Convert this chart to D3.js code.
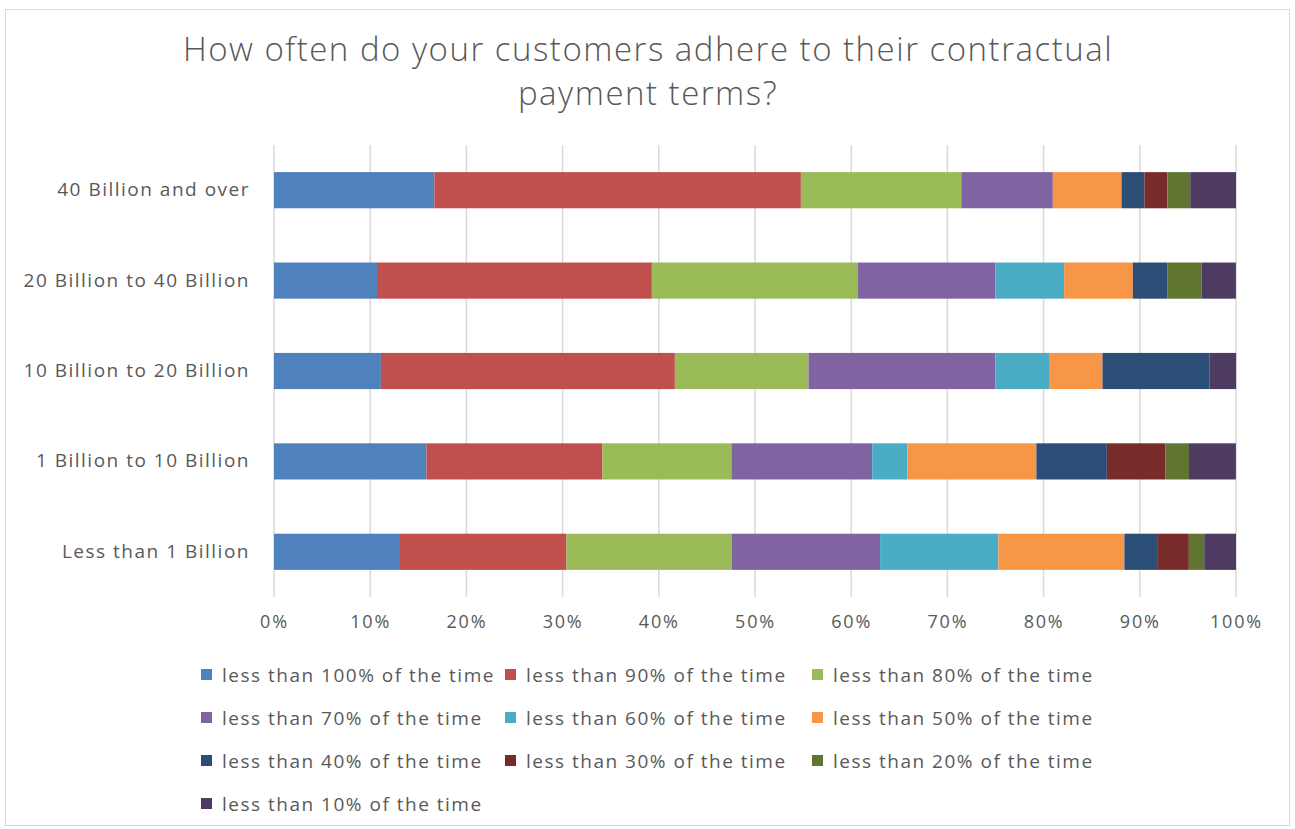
<!DOCTYPE html>
<html>
<head>
<meta charset="utf-8">
<script src="https://cdn.jsdelivr.net/npm/d3@7"></script>
<style>
  html, body { margin: 0; padding: 0; background: #fff; }
  svg { display: block; font-family: "Open Sans", Lato, sans-serif; }
</style>
</head>
<body>
<svg id="chart" width="1295" height="829"></svg>
<script>
// Revenue bands, top to bottom
const categories = [
  "40 Billion and over",
  "20 Billion to 40 Billion",
  "10 Billion to 20 Billion",
  "1 Billion to 10 Billion",
  "Less than 1 Billion"
];

const seriesNames = [
  "less than 100% of the time",
  "less than 90% of the time",
  "less than 80% of the time",
  "less than 70% of the time",
  "less than 60% of the time",
  "less than 50% of the time",
  "less than 40% of the time",
  "less than 30% of the time",
  "less than 20% of the time",
  "less than 10% of the time"
];

const seriesColors = [
  "#4f81bd", "#c0504d", "#9bbb59", "#8064a2", "#4bacc6",
  "#f79646", "#2c4d75", "#772c2a", "#5f7530", "#4d3b62"
];

// Share of respondents (%) per series, one value per category (same order as categories)
const lessThan100 = [16.67, 10.71, 11.11, 15.85, 13.0];
const lessThan90  = [38.10, 28.57, 30.56, 18.29, 17.4];
const lessThan80  = [16.67, 21.43, 13.89, 13.41, 17.2];
const lessThan70  = [ 9.52, 14.29, 19.44, 14.63, 15.4];
const lessThan60  = [ 0.00,  7.14,  5.56,  3.66, 12.3];
const lessThan50  = [ 7.14,  7.14,  5.56, 13.41, 13.1];
const lessThan40  = [ 2.38,  3.57, 11.11,  7.32,  3.4];
const lessThan30  = [ 2.38,  0.00,  0.00,  6.10,  3.3];
const lessThan20  = [ 2.38,  3.57,  0.00,  2.44,  1.6];
const lessThan10  = [ 4.76,  3.57,  2.78,  4.88,  3.3];

const tickValues = [0, 10, 20, 30, 40, 50, 60, 70, 80, 90, 100];

const seriesValues = [
  lessThan100, lessThan90, lessThan80, lessThan70, lessThan60,
  lessThan50, lessThan40, lessThan30, lessThan20, lessThan10
];

// Build row objects for d3.stack
const rows = categories.map((c, i) => {
  const r = { category: c };
  seriesNames.forEach((s, j) => { r[s] = seriesValues[j][i]; });
  return r;
});

const svg = d3.select("#chart");
const W = 1295, H = 829;
const textColor = "#595959";

// Outer frame
svg.append("rect")
  .attr("x", 5.5).attr("y", 9.5)
  .attr("width", W - 11).attr("height", H - 13)
  .attr("fill", "#fff")
  .attr("stroke", "#d9d9d9").attr("stroke-width", 1);

// Title
const title = svg.append("text")
  .attr("text-anchor", "middle")
  .attr("fill", textColor)
  .attr("font-size", 33)
  .attr("letter-spacing", 1.5)
  .attr("font-weight", 300);
title.append("tspan").attr("x", 648).attr("y", 61)
  .text("How often do your customers adhere to their contractual");
title.append("tspan").attr("x", 648).attr("y", 105)
  .text("payment terms?");

const plot = { left: 274, right: 1236, top: 145, bottom: 597 };

const x = d3.scaleLinear().domain([0, 100]).range([plot.left, plot.right]);
const y = d3.scaleBand().domain(categories).range([plot.top, plot.bottom])
  .paddingInner(0.6).paddingOuter(0.3);

// Vertical gridlines
svg.append("g")
  .selectAll("line")
  .data(tickValues)
  .join("line")
  .attr("x1", d => x(d)).attr("x2", d => x(d))
  .attr("y1", plot.top).attr("y2", plot.bottom)
  .attr("stroke", "#d9d9d9").attr("stroke-width", 1.5);

// Stacked bars
const stack = d3.stack().keys(seriesNames);
const layers = stack(rows);

svg.append("g")
  .selectAll("g")
  .data(layers)
  .join("g")
  .attr("fill", (d, i) => seriesColors[i])
  .selectAll("rect")
  .data(d => d)
  .join("rect")
  .attr("x", d => x(d[0]))
  .attr("width", d => Math.max(0, x(d[1]) - x(d[0])))
  .attr("y", d => y(d.data.category))
  .attr("height", y.bandwidth());

// X axis labels
const xAxis = d3.axisBottom(x)
  .tickValues(tickValues)
  .tickFormat(d => d + "%")
  .tickSize(0)
  .tickPadding(18);
const gx = svg.append("g")
  .attr("transform", `translate(0,${plot.bottom})`)
  .call(xAxis);
gx.select(".domain").remove();
gx.selectAll("text")
  .attr("fill", textColor)
  .attr("font-size", 18)
  .attr("letter-spacing", 1.8)
  .attr("font-family", "'Open Sans', Lato, sans-serif");

// Y axis labels
const yAxis = d3.axisLeft(y).tickSize(0).tickPadding(24);
const gy = svg.append("g")
  .attr("transform", `translate(${plot.left},0)`)
  .call(yAxis);
gy.select(".domain").remove();
gy.selectAll("text")
  .attr("fill", textColor)
  .attr("font-size", 19)
  .attr("letter-spacing", 1.5)
  .attr("font-family", "'Open Sans', Lato, sans-serif");

// Legend, three columns
const legendCols = [201, 505, 812];
const legendRows = [675, 718, 761, 804];
const legend = svg.append("g")
  .selectAll("g")
  .data(seriesNames)
  .join("g")
  .attr("transform", (d, i) =>
    `translate(${legendCols[i % 3]},${legendRows[Math.floor(i / 3)]})`);
legend.append("rect")
  .attr("x", 0).attr("y", -6)
  .attr("width", 11).attr("height", 11)
  .attr("fill", (d, i) => seriesColors[i]);
legend.append("text")
  .attr("x", 21).attr("y", 0)
  .attr("dy", "0.35em")
  .attr("fill", textColor)
  .attr("font-size", 19)
  .attr("letter-spacing", 1.5)
  .text(d => d);
</script>
</body>
</html>
